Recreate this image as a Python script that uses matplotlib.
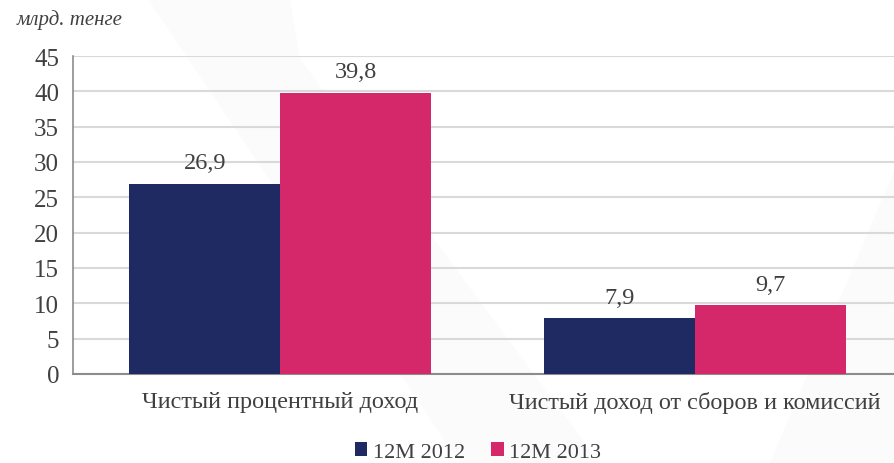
import matplotlib.pyplot as plt
from matplotlib.patches import Polygon
import numpy as np

# data
categories = ["Чистый процентный доход", "Чистый доход от сборов и комиссий"]
series_names = ["12M 2012", "12M 2013"]
values_2012 = [26.9, 7.9]
values_2013 = [39.8, 9.7]
yticks = [0, 5, 10, 15, 20, 25, 30, 35, 40, 45]

colors = ["#1f2a63", "#d4286b"]
text_color = "#404040"

plt.rcParams["font.family"] = ["Liberation Serif", "DejaVu Serif"]

W, H = 895, 464
fig = plt.figure(figsize=(W / 100, H / 100), dpi=100)

# faint watermark shapes, on a background axes in pixel coordinates
bg = fig.add_axes([0, 0, 1, 1], zorder=-10)
bg.set_xlim(0, W)
bg.set_ylim(H, 0)
bg.axis("off")
bg.add_patch(Polygon([(148, 0), (290, 0), (300, 60), (600, 464), (460, 464)],
                     facecolor="#fafbfa", edgecolor="none"))
bg.add_patch(Polygon([(895, 170), (895, 464), (770, 464)],
                     facecolor="#fafbfa", edgecolor="none"))

ax = fig.add_axes([73 / W, (H - 375) / H, (902 - 73) / W, 318 / H])
ax.patch.set_alpha(0)

x = np.arange(len(categories))
bw = 0.364
b1 = ax.bar(x - bw / 2, values_2012, bw, color=colors[0], label=series_names[0], zorder=3)
b2 = ax.bar(x + bw / 2, values_2013, bw, color=colors[1], label=series_names[1], zorder=3)

for bars, vals in [(b1, values_2012), (b2, values_2013)]:
    for rect, v in zip(bars, vals):
        ax.text(rect.get_x() + rect.get_width() / 2, v + 1.5,
                f"{v:.1f}".replace(".", ","), ha="center", va="bottom",
                fontsize=17.5, color=text_color)

ax.set_xlim(-0.5, 1.5)
ax.set_ylim(0, 45)
ax.set_yticks(yticks)
ax.set_yticklabels([str(t) for t in yticks], fontsize=18, color=text_color)
ax.set_xticks(x)
ax.set_xticklabels(categories, fontsize=17.5, color=text_color)
ax.tick_params(axis="both", length=0)
ax.tick_params(axis="y", pad=10)
ax.tick_params(axis="x", pad=12)

ax.yaxis.grid(True, color="#d9d9d9", linewidth=1.5, zorder=0)
ax.set_axisbelow(True)
for s in ["top", "right"]:
    ax.spines[s].set_visible(False)
ax.spines["left"].set_color("#8c8c8c")
ax.spines["bottom"].set_color("#8c8c8c")
ax.spines["left"].set_linewidth(1.2)
ax.spines["bottom"].set_linewidth(1.5)

fig.text(17 / W, 1 - 20 / H, "млрд. тенге", fontsize=15, style="italic",
         color=text_color, va="center", ha="left")

fig.legend(handles=[b1, b2], labels=series_names, loc="center",
           bbox_to_anchor=(478 / W, 1 - 453 / H), ncol=2, frameon=False,
           fontsize=16, labelcolor=text_color, handlelength=0.55,
           handleheight=0.55, handletextpad=0.25, columnspacing=1.2)

fig.savefig("out.png", dpi=100)
